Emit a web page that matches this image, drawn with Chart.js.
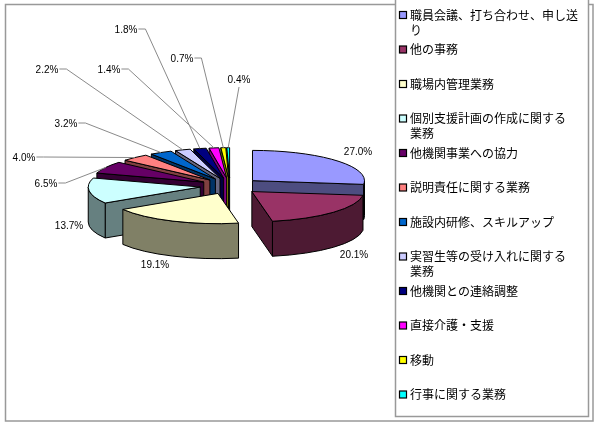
<!DOCTYPE html>
<html lang="ja">
<head>
<meta charset="utf-8">
<title>業務内容の割合</title>
<script src="https://cdn.jsdelivr.net/npm/chart.js@4.4.1/dist/chart.umd.min.js"></script>
<style>
  html, body { margin: 0; padding: 0; background: #fff; }
  canvas { display: block; }
</style>
</head>
<body>
<canvas id="chartGyomu" width="599" height="426"></canvas>
<script>
// ================================================
// Data
// ================================================

const categories = [
  '職員会議、打ち合わせ、申し送り',
  '他の事務',
  '職場内管理業務',
  '個別支援計画の作成に関する業務',
  '他機関事業への協力',
  '説明責任に関する業務',
  '施設内研修、スキルアップ',
  '実習生等の受け入れに関する業務',
  '他機関との連絡調整',
  '直接介護・支援',
  '移動',
  '行事に関する業務'
];

const percentages = [27.0, 20.1, 19.1, 13.7, 6.5, 4.0, 3.2, 2.2, 1.8, 1.4, 0.7, 0.4];

const sliceColors = [
  '#9999FF', '#993366', '#FFFFCC', '#CCFFFF', '#660066', '#FF8080',
  '#0066CC', '#CCCCFF', '#000080', '#FF00FF', '#FFFF00', '#00FFFF'
];

// ================================================
// Layout (pixels)
// ================================================

const PIE_X = 230, PIE_Y = 186, PIE_R = 112;
const TILT = 0.27;      // vertical squash of the pie
const DEPTH = 35;       // thickness of the 3D walls
const EXPLODE = 30;     // distance every slice is pulled out

const LEGEND_BOX = { left: 395.5, top: -2, right: 588.5, bottom: 416.5 };
const LEGEND_TOP = 15, LEGEND_STEP = 34.5, LEGEND_TEXT_X = 410, LEGEND_WRAP = 172;

// text centre of each percentage label; leader = where the leader line leaves the text
const labelAnchors = [
  { x: 358, y: 152 },
  { x: 354, y: 255 },
  { x: 155, y: 265 },
  { x: 69, y: 226 },
  { x: 46, y: 184, leader: 'right' },
  { x: 24, y: 158, leader: 'right' },
  { x: 66, y: 124, leader: 'right' },
  { x: 47, y: 70, leader: 'right' },
  { x: 126, y: 30, leader: 'right' },
  { x: 109, y: 70, leader: 'right' },
  { x: 182, y: 59, leader: 'right' },
  { x: 239, y: 80, leader: 'down' }
];

// ================================================
// Helpers
// ================================================

function shade(hex, f) {
  const n = parseInt(hex.slice(1), 16);
  const r = Math.round(((n >> 16) & 255) * f);
  const g = Math.round(((n >> 8) & 255) * f);
  const b = Math.round((n & 255) * f);
  return `rgb(${r}, ${g}, ${b})`;
}

function sliceGeom(arc) {
  const mid = (arc.startAngle + arc.endAngle) / 2;
  return {
    cx: arc.x + EXPLODE * Math.cos(mid),
    cy: arc.y + TILT * EXPLODE * Math.sin(mid),
    r: arc.outerRadius,
    s: arc.startAngle,
    e: arc.endAngle,
    mid: mid
  };
}

function rim(g, a) {
  return [g.cx + g.r * Math.cos(a), g.cy + TILT * g.r * Math.sin(a)];
}

function isKanji(ch) {
  return /[\u4e00-\u9fff]/.test(ch);
}

// wrap by characters, but do not leave one kanji of a compound alone on the next line
function wrapLabel(ctx, text, maxW) {
  const lines = [];
  let line = '';
  for (const ch of text) {
    if (line && ctx.measureText(line + ch).width > maxW) {
      lines.push(line);
      line = ch;
    } else {
      line += ch;
    }
  }
  lines.push(line);
  const n = lines.length;
  if (n > 1 && lines[n - 1].length === 1 && isKanji(lines[n - 1])) {
    const prev = lines[n - 2];
    if (isKanji(prev.slice(-1))) {
      lines[n - 2] = prev.slice(0, -1);
      lines[n - 1] = prev.slice(-1) + lines[n - 1];
    }
  }
  return lines;
}

// ================================================
// 3D pie plugin
// ================================================

const pie3d = {
  id: 'pie3d',

  beforeDraw(chart) {
    const ctx = chart.ctx;
    ctx.save();
    ctx.fillStyle = '#fff';
    ctx.fillRect(0, 0, chart.width, chart.height);
    ctx.strokeStyle = '#999';
    ctx.lineWidth = 1.5;
    ctx.strokeRect(5.5, 4.5, 587.5, 416.5);
    ctx.restore();
  },

  beforeDatasetsDraw(chart) {
    const ctx = chart.ctx;
    const meta = chart.getDatasetMeta(0);

    const slices = meta.data.map((arc, i) => ({ arc: arc, i: i, g: sliceGeom(arc) }));
    // back slices first
    slices.sort((a, b) => Math.sin(a.g.mid) - Math.sin(b.g.mid));

    ctx.save();
    ctx.lineWidth = 1;
    ctx.lineJoin = 'round';
    ctx.strokeStyle = '#000';

    slices.forEach(({ arc, i, g }) => {
      ctx.fillStyle = shade(sliceColors[i], 0.5);

      // radial walls facing the viewer
      [[g.s, Math.cos(g.s) < 0], [g.e, Math.cos(g.e) > 0]].forEach(([a, visible]) => {
        if (!visible) return;
        const p = rim(g, a);
        ctx.beginPath();
        ctx.moveTo(g.cx, g.cy);
        ctx.lineTo(p[0], p[1]);
        ctx.lineTo(p[0], p[1] + DEPTH);
        ctx.lineTo(g.cx, g.cy + DEPTH);
        ctx.closePath();
        ctx.fill();
        ctx.stroke();
      });

      // outer wall (front half only)
      const a0 = Math.max(g.s, 0);
      const a1 = Math.min(g.e, Math.PI);
      if (a1 > a0) {
        ctx.beginPath();
        ctx.ellipse(g.cx, g.cy, g.r, g.r * TILT, 0, a0, a1);
        ctx.ellipse(g.cx, g.cy + DEPTH, g.r, g.r * TILT, 0, a1, a0, true);
        ctx.closePath();
        ctx.fill();
        ctx.stroke();
      }

      // top face drawn by the arc element, squashed
      ctx.save();
      ctx.translate(g.cx, g.cy);
      ctx.scale(1, TILT);
      ctx.translate(-arc.x, -arc.y);
      arc.draw(ctx);
      ctx.beginPath();
      ctx.moveTo(arc.x, arc.y);
      ctx.arc(arc.x, arc.y, arc.outerRadius, arc.startAngle, arc.endAngle);
      ctx.closePath();
      ctx.restore();
      ctx.stroke();
    });

    ctx.restore();
    return false;
  },

  afterDraw(chart) {
    const ctx = chart.ctx;
    const meta = chart.getDatasetMeta(0);

    // percentage labels and leader lines
    ctx.save();
    ctx.font = '10px "Liberation Sans", Arial, sans-serif';
    ctx.textAlign = 'center';
    ctx.textBaseline = 'middle';
    meta.data.forEach((arc, i) => {
      const pos = labelAnchors[i];
      const text = percentages[i].toFixed(1) + '%';
      ctx.fillStyle = '#000';
      ctx.fillText(text, pos.x, pos.y);

      if (!pos.leader) return;
      const g = sliceGeom(arc);
      const end = rim(g, g.mid);
      const w = ctx.measureText(text).width;
      ctx.beginPath();
      if (pos.leader === 'down') {
        ctx.moveTo(pos.x, pos.y + 7);
      } else {
        ctx.moveTo(pos.x + w / 2 + 1, pos.y - 1);
        ctx.lineTo(pos.x + w / 2 + 8, pos.y - 1);
      }
      ctx.lineTo(end[0], end[1]);
      ctx.strokeStyle = '#8a8a8a';
      ctx.lineWidth = 1;
      ctx.stroke();
    });
    ctx.restore();

    // legend
    ctx.save();
    ctx.fillStyle = '#fff';
    ctx.fillRect(LEGEND_BOX.left, LEGEND_BOX.top, LEGEND_BOX.right - LEGEND_BOX.left, LEGEND_BOX.bottom - LEGEND_BOX.top);
    ctx.strokeStyle = '#999';
    ctx.lineWidth = 1.5;
    ctx.strokeRect(LEGEND_BOX.left, LEGEND_BOX.top, LEGEND_BOX.right - LEGEND_BOX.left, LEGEND_BOX.bottom - LEGEND_BOX.top);

    ctx.font = '12px "Noto Sans CJK JP", sans-serif';
    ctx.textAlign = 'left';
    ctx.textBaseline = 'middle';
    categories.forEach((name, i) => {
      const y = LEGEND_TOP + i * LEGEND_STEP;
      ctx.fillStyle = sliceColors[i];
      ctx.fillRect(399.5, y - 3.5, 7, 7);
      ctx.strokeStyle = '#000';
      ctx.lineWidth = 1.2;
      ctx.strokeRect(399.5, y - 3.5, 7, 7);

      ctx.fillStyle = '#000';
      wrapLabel(ctx, name, LEGEND_WRAP).forEach((line, j) => {
        ctx.fillText(line, LEGEND_TEXT_X, y + j * 15);
      });
    });
    ctx.restore();
  }
};

// ================================================
// Chart
// ================================================

const chartGyomuCtx = document.getElementById('chartGyomu');
new Chart(chartGyomuCtx, {
  type: 'pie',
  data: {
    labels: categories,
    datasets: [
      {
        data: percentages,
        backgroundColor: sliceColors,
        borderWidth: 0
      }
    ]
  },
  options: {
    responsive: false,
    animation: false,
    events: [],
    layout: {
      padding: {
        left: PIE_X - PIE_R,
        top: PIE_Y - PIE_R,
        right: 599 - (PIE_X + PIE_R),
        bottom: 426 - (PIE_Y + PIE_R)
      }
    },
    plugins: {
      legend: { display: false },
      tooltip: { enabled: false }
    }
  },
  plugins: [pie3d]
});
</script>
</body>
</html>
